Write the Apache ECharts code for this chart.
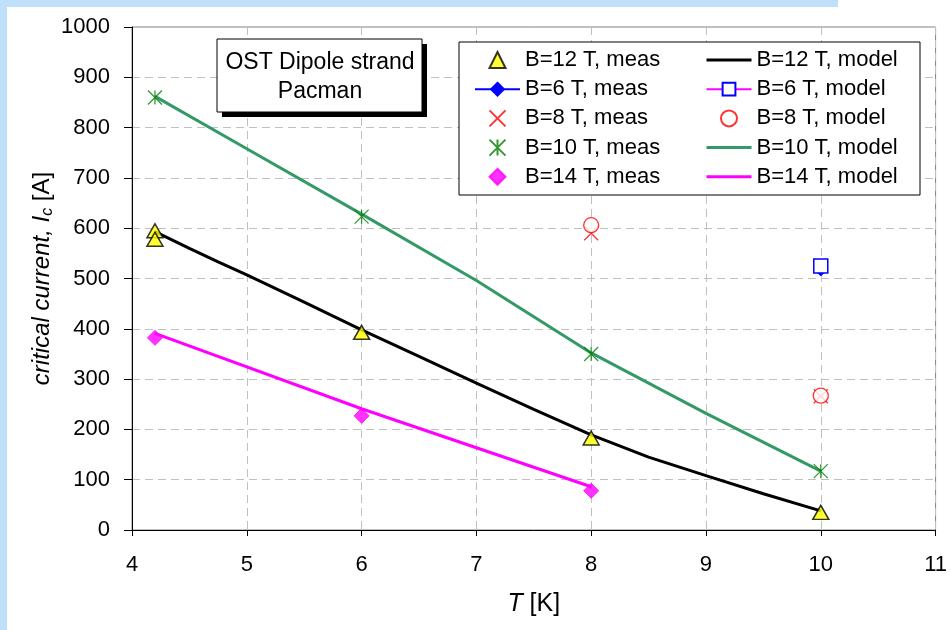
<!DOCTYPE html>
<html>
<head>
<meta charset="utf-8">
<script src="https://cdn.jsdelivr.net/npm/echarts@6/dist/echarts.min.js"></script>
<style>
html,body{margin:0;padding:0;background:#fff;}
#c{width:950px;height:630px;}
</style>
</head>
<body>
<div id="c"></div>
<script>
// ---- data ----
const xTicks = [4, 5, 6, 7, 8, 9, 10, 11];
const yTicks = [0, 100, 200, 300, 400, 500, 600, 700, 800, 900, 1000];

const b12MeasT = [4.2, 4.2, 6, 8, 10];
const b12MeasI = [595, 578, 393, 183, 35];
const b12ModelT = [4.2, 4.5, 4.75, 5, 5.5, 6, 6.5, 7, 7.5, 8, 8.5, 9, 9.5, 10];
const b12ModelI = [593, 560, 533, 507, 453, 398, 345, 292, 240, 189, 145, 108, 72, 38];

const b6MeasT = [10];
const b6MeasI = [518];
const b6ModelT = [10];
const b6ModelI = [525];

const b8MeasT = [8, 10];
const b8MeasI = [590, 266];
const b8ModelT = [8, 10];
const b8ModelI = [606, 267];

const b10MeasT = [4.2, 6, 8, 10];
const b10MeasI = [860, 623, 350, 117];
const b10ModelT = [4.2, 5, 6, 7, 8, 9, 10];
const b10ModelI = [862, 758, 628, 496, 352, 232, 117];

const b14MeasT = [4.2, 6, 8];
const b14MeasI = [382, 227, 78];
const b14ModelT = [4.2, 6, 8];
const b14ModelI = [391, 241, 86];

const measNames = ['B=12 T, meas', 'B=6 T, meas', 'B=8 T, meas', 'B=10 T, meas', 'B=14 T, meas'];
const modelNames = ['B=12 T, model', 'B=6 T, model', 'B=8 T, model', 'B=10 T, model', 'B=14 T, model'];
const boxLines = ['OST Dipole strand', 'Pacman'];

function pts(t, v) { return t.map((x, i) => [x, v[i]]); }

const FONT = "'Liberation Sans', Arial, sans-serif";
const XPATH = 'path://M0,0L10,10M10,0L0,10';
const STARPATH = 'path://M0,0L10,10M10,0L0,10M5,0L5,10';
const TRIPATH = 'path://M5,0L10,10L0,10Z';
const DIAPATH = 'path://M5,0L10,5L5,10L0,5Z';

const chart = echarts.init(document.getElementById('c'), null, {renderer: 'canvas'});

const hideSym = {opacity: 0};
const thick = {width: 3};
const legendCommon = {
  orient: 'vertical', top: 49, padding: 0, itemWidth: 45, itemHeight: 16, itemGap: 7.2,
  symbolKeepAspect: true,
  textStyle: {color: '#000', fontSize: 22, fontFamily: FONT, lineHeight: 22},
  selectedMode: false
};

const option = {
  backgroundColor: '#ffffff',
  animation: false,
  textStyle: {fontFamily: FONT},
  grid: {left: 132, top: 27, right: 10, bottom: 100, show: true, borderColor: '#808080', borderWidth: 1, backgroundColor: 'transparent'},
  xAxis: {
    type: 'value', min: xTicks[0], max: xTicks[xTicks.length - 1], interval: 1,
    axisLine: {onZero: false, lineStyle: {color: '#000', width: 1}},
    axisTick: {show: true, inside: false, length: 6, lineStyle: {color: '#000'}},
    axisLabel: {color: '#000', fontSize: 22, fontFamily: FONT, margin: 24, formatter: v => String(v)},
    splitLine: {show: true, lineStyle: {color: '#c0c0c0', type: [8, 5], width: 1}},
    name: '{i|T} [K]', nameLocation: 'middle', nameGap: 62,
    nameTextStyle: {color: '#000', fontSize: 25, fontFamily: FONT, rich: {i: {fontStyle: 'italic', fontSize: 25, fontFamily: FONT, color: '#000'}}}
  },
  yAxis: {
    type: 'value', min: yTicks[0], max: yTicks[yTicks.length - 1], interval: 100,
    axisLine: {show: true, lineStyle: {color: '#000', width: 1}},
    axisTick: {show: true, inside: false, length: 8, lineStyle: {color: '#000'}},
    axisLabel: {color: '#000', fontSize: 22, fontFamily: FONT, margin: 22, formatter: v => String(v)},
    splitLine: {show: true, lineStyle: {color: '#c0c0c0', type: [8, 5], width: 1}},
    name: '{i|critical current, I}{s|c}{n| [A]}', nameLocation: 'middle', nameGap: 76,
    nameMoveOverlap: false,
    nameTextStyle: {
      color: '#000', fontSize: 24, fontFamily: FONT,
      rich: {
        i: {fontStyle: 'italic', fontSize: 24, fontFamily: FONT, color: '#000', lineHeight: 28},
        s: {fontStyle: 'italic', fontSize: 16, fontFamily: FONT, color: '#000', lineHeight: 28, verticalAlign: 'bottom', padding: [11, 0, 0, 0]},
        n: {fontSize: 24, fontFamily: FONT, color: '#000', lineHeight: 28}
      }
    }
  },
  legend: [
    Object.assign({}, legendCommon, {left: 474, data: measNames}),
    Object.assign({}, legendCommon, {left: 705, data: [
      {name: modelNames[0], itemStyle: hideSym, lineStyle: thick},
      {name: modelNames[1]},
      {name: modelNames[2]},
      {name: modelNames[3], itemStyle: hideSym, lineStyle: thick},
      {name: modelNames[4], itemStyle: hideSym, lineStyle: thick}
    ]})
  ],
  graphic: [
    {type: 'rect', x: 0, y: 0, shape: {width: 838, height: 7}, style: {fill: '#bfe0fa'}, z: 10, silent: true},
    {type: 'rect', x: 0, y: 0, shape: {width: 7, height: 630}, style: {fill: '#bfe0fa'}, z: 10, silent: true},
    {type: 'rect', x: 459, y: 42, shape: {width: 461, height: 153}, style: {fill: '#fff', stroke: '#000', lineWidth: 1}, z: 3, silent: true},
    {type: 'rect', x: 222, y: 44, shape: {width: 205, height: 73}, style: {fill: '#000'}, z: 3, silent: true},
    {type: 'rect', x: 217, y: 39, shape: {width: 205, height: 73}, style: {fill: '#fff', stroke: '#000', lineWidth: 1}, z: 3, silent: true},
    {type: 'text', x: 320, y: 48, z: 4, silent: true,
      style: {text: boxLines.join('\n'), fill: '#000', font: '23px ' + FONT, align: 'center', verticalAlign: 'top', lineHeight: 29}}
  ],
  series: [
    {name: measNames[0], type: 'scatter', data: pts(b12MeasT, b12MeasI), symbol: TRIPATH, symbolSize: [16, 14], z: 5,
      itemStyle: {color: '#ffff00', borderColor: '#000', borderWidth: 1.5}},
    {name: measNames[1], type: 'line', data: pts(b6MeasT, b6MeasI), symbol: 'diamond', symbolSize: 13, showSymbol: true, z: 3,
      lineStyle: {color: '#0000ff', width: 1}, itemStyle: {color: '#0000ff', borderColor: '#0000ff', borderWidth: 1}},
    {name: measNames[2], type: 'scatter', data: pts(b8MeasT, b8MeasI), symbol: XPATH, symbolSize: 14, z: 3,
      itemStyle: {color: 'rgba(0,0,0,0)', borderColor: '#ff0000', borderWidth: 1.3}},
    {name: measNames[3], type: 'scatter', data: pts(b10MeasT, b10MeasI), symbol: STARPATH, symbolSize: 14, z: 5,
      itemStyle: {color: 'rgba(0,0,0,0)', borderColor: '#008000', borderWidth: 1.3}},
    {name: measNames[4], type: 'scatter', data: pts(b14MeasT, b14MeasI), symbol: DIAPATH, symbolSize: 15, z: 5,
      itemStyle: {color: '#ff00ff', borderColor: '#ff00ff', borderWidth: 1}},
    {name: modelNames[0], type: 'line', data: pts(b12ModelT, b12ModelI), symbol: 'none', z: 4,
      lineStyle: {color: '#000', width: 3}, itemStyle: {color: '#000'}},
    {name: modelNames[1], type: 'line', data: pts(b6ModelT, b6ModelI), symbol: 'rect', symbolSize: 14, showSymbol: true, z: 4,
      lineStyle: {color: '#ff00ff', width: 1}, itemStyle: {color: '#ffffff', borderColor: '#0000ff', borderWidth: 1.5}},
    {name: modelNames[2], type: 'scatter', data: pts(b8ModelT, b8ModelI), symbol: 'circle', symbolSize: 15, z: 4,
      itemStyle: {color: '#ffffff', borderColor: '#ff0000', borderWidth: 1.3}},
    {name: modelNames[3], type: 'line', data: pts(b10ModelT, b10ModelI), symbol: 'none', z: 4,
      lineStyle: {color: '#339966', width: 3}, itemStyle: {color: '#339966'}},
    {name: modelNames[4], type: 'line', data: pts(b14ModelT, b14ModelI), symbol: 'none', z: 4,
      lineStyle: {color: '#ff00ff', width: 3}, itemStyle: {color: '#ff00ff'}}
  ]
};
chart.setOption(option);
</script>
</body>
</html>
